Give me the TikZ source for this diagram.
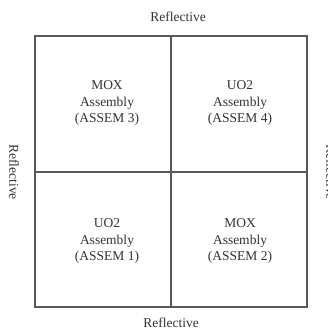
\documentclass[tikz,border=0pt]{standalone}
\usepackage{fontspec}
\setmainfont{Liberation Serif}
\begin{document}
\begin{tikzpicture}[x=1pt,y=-1pt,
  lbl/.style={font=\fontsize{13.5}{16.5}\selectfont, text=black!80, align=center, inner sep=0pt},
  grid/.style={draw=black!65, line width=1.1pt}]
\useasboundingbox[fill=white] (0,0) rectangle (328,331);
\coordinate (tl) at (35,36);
\coordinate (br) at (307,307);
\draw[grid] (tl) rectangle (br);
\coordinate (tm) at (171,36);
\coordinate (bm) at (171,307);
\coordinate (lm) at (35,172);
\coordinate (rm) at (307,172);
\draw[grid] (tm) -- (bm);
\draw[grid] (lm) -- (rm);
\node[lbl] (top) at (178,17) {Reflective};
\node[lbl] (bottom) at (171,323) {Reflective};
\node[lbl, rotate=-90] (left) at (14,172) {Reflective};
\node[lbl, rotate=-90] (right) at (331,172) {Reflective};
\node[lbl] (a3) at (107,103) {MOX\\Assembly\\(ASSEM 3)};
\node[lbl] (a4) at (240,103) {UO2\\Assembly\\(ASSEM 4)};
\node[lbl] (a1) at (107,241) {UO2\\Assembly\\(ASSEM 1)};
\node[lbl] (a2) at (240,241) {MOX\\Assembly\\(ASSEM 2)};
\end{tikzpicture}
\end{document}
